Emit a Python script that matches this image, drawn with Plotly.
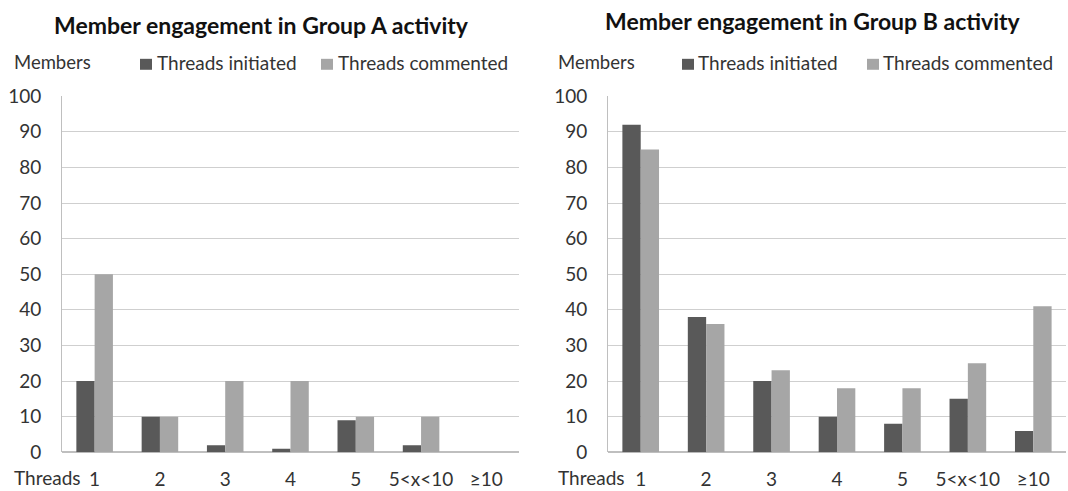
import plotly.graph_objects as go

categories = ["1", "2", "3", "4", "5", "5<x<10", "≥10"]
a_initiated = [20, 10, 2, 1, 9, 2, 0]
a_commented = [50, 10, 20, 20, 10, 10, 0]
b_initiated = [92, 38, 20, 10, 8, 15, 6]
b_commented = [85, 36, 23, 18, 18, 25, 41]
y_ticks = list(range(0, 101, 10))
series_names = ["Threads initiated", "Threads commented"]
titles = ["Member engagement in Group A activity", "Member engagement in Group B activity"]

DARK = "#595959"
LIGHT = "#a6a6a6"
TXT = "#333333"
FONT = "Lato"
W, H = 1068, 503
OFF, SC = 10.0, 0.958  # vertical offset/scale observed in the photographed page


def py(y):
    """target picture y (px from top) -> paper fraction"""
    return 1 - ((y - OFF) / SC) / H


fig = go.Figure()
for xa, ya, ini, com in [("x", "y", a_initiated, a_commented), ("x2", "y2", b_initiated, b_commented)]:
    fig.add_trace(go.Bar(x=categories, y=ini, name=series_names[0], xaxis=xa, yaxis=ya,
                         marker=dict(color=DARK, line=dict(width=0)), showlegend=False))
    fig.add_trace(go.Bar(x=categories, y=com, name=series_names[1], xaxis=xa, yaxis=ya,
                         marker=dict(color=LIGHT, line=dict(width=0)), showlegend=False))

ydom = [py(452), py(94.5)]
common_x = dict(type="category", range=[-0.5, 6.5], showgrid=False, showline=False, zeroline=False,
                tickfont=dict(family=FONT, size=19, color=TXT), ticks="", ticklabelstandoff=14)
common_y = dict(range=[0, 100], tickvals=y_ticks, showgrid=True, gridcolor="#cfcfcf", gridwidth=1,
                showline=True, linecolor="#bfbfbf", linewidth=1, zeroline=True, zerolinecolor="#bfbfbf",
                tickfont=dict(family=FONT, size=19, color=TXT), ticks="", ticklabelstandoff=16)

fig.update_layout(
    width=W, height=H, margin=dict(l=0, r=0, t=0, b=0),
    paper_bgcolor="white", plot_bgcolor="white",
    barmode="group", bargap=0.44, bargroupgap=0,
    xaxis=dict(domain=[62 / W, 519 / W], anchor="y", **common_x),
    yaxis=dict(domain=ydom, anchor="x", **common_y),
    xaxis2=dict(domain=[608 / W, 1066 / W], anchor="y2", **common_x),
    yaxis2=dict(domain=ydom, anchor="x2", **common_y),
    font=dict(family=FONT, color=TXT),
)

ann = []
shapes = []
for xc, yc, t in [(261, 23.5, titles[0]), (813, 19.5, titles[1])]:
    ann.append(dict(x=xc / W, y=py(yc), xref="paper", yref="paper", text="<b>" + t + "</b>",
                    showarrow=False, font=dict(family=FONT, size=23, color="#111111"),
                    xanchor="center", yanchor="middle"))
for xl in [12, 556]:
    ann.append(dict(x=xl / W, y=py(60.5), xref="paper", yref="paper", text="Members",
                    showarrow=False, font=dict(family=FONT, size=18.5, color=TXT),
                    xanchor="left", yanchor="middle"))
    ann.append(dict(x=xl / W, y=py(477.5), xref="paper", yref="paper", text="Threads",
                    showarrow=False, font=dict(family=FONT, size=19, color=TXT),
                    xanchor="left", yanchor="middle"))
legend_items = [(140, 155, DARK, series_names[0]), (321, 336, LIGHT, series_names[1]),
                (682, 696, DARK, series_names[0]), (867, 881, LIGHT, series_names[1])]
for sx, tx, col, name in legend_items:
    shapes.append(dict(type="rect", xref="paper", yref="paper",
                       x0=sx / W, x1=(sx + 12) / W, y0=py(68), y1=py(57),
                       fillcolor=col, line=dict(width=0)))
    ann.append(dict(x=tx / W, y=py(60.5), xref="paper", yref="paper", text=name,
                    showarrow=False, font=dict(family=FONT, size=19, color=TXT),
                    xanchor="left", yanchor="middle"))
fig.update_layout(annotations=ann, shapes=shapes)

fig.write_html("out.html", config={"displayModeBar": False},
               post_script="document.documentElement.style.margin='0';document.body.style.margin='0';"
                           "document.body.style.padding='0';document.body.style.overflow='hidden';")
